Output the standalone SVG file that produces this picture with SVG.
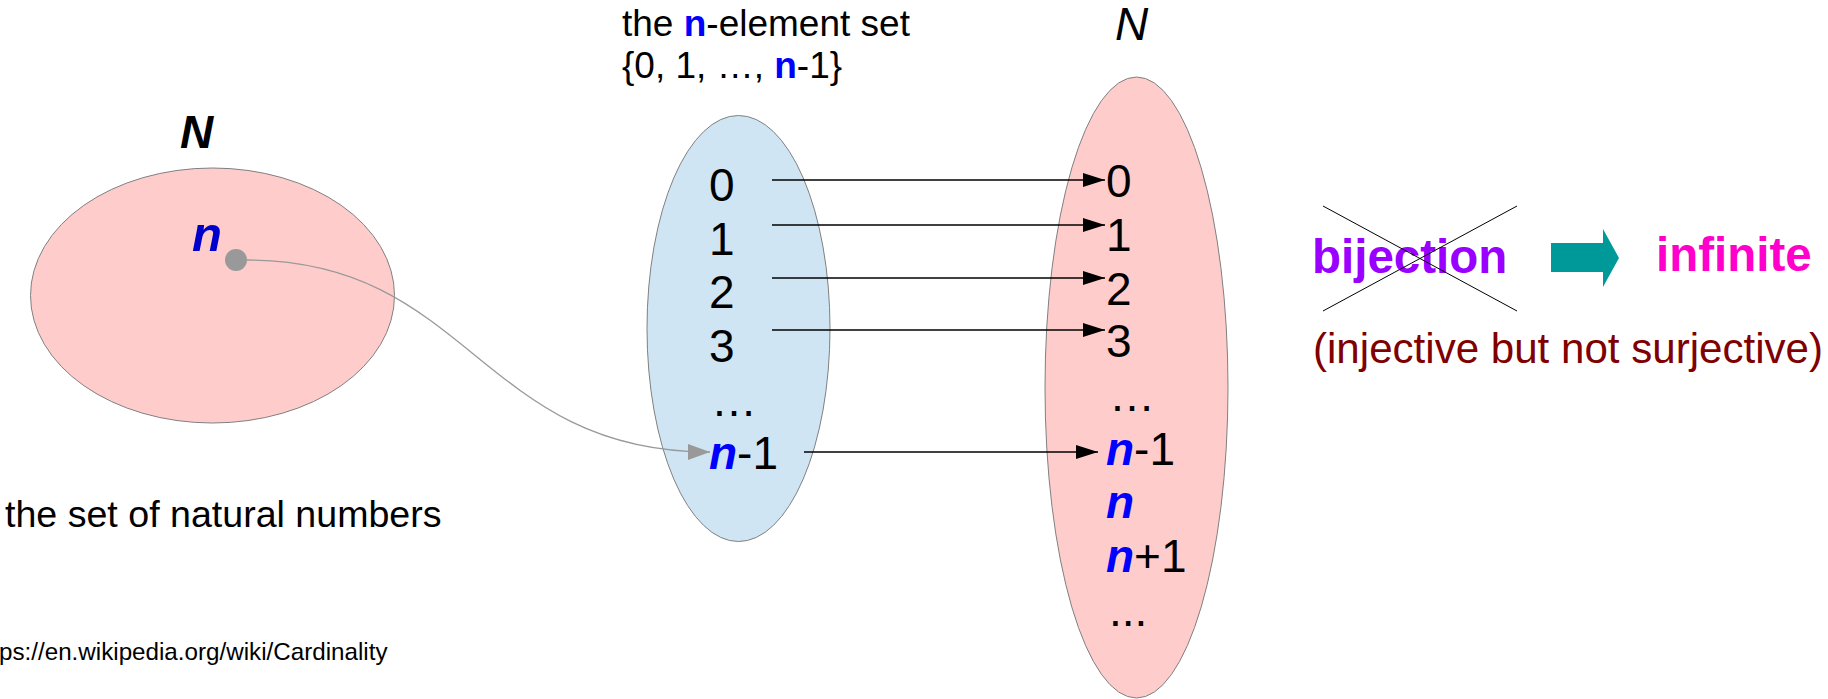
<svg xmlns="http://www.w3.org/2000/svg" width="1828" height="699" viewBox="0 0 1828 699">
<style>
text{font-family:"Liberation Sans",Arial,sans-serif;fill:#000}
.num{font-size:46px}
.nb{font-weight:bold;font-style:italic;fill:#0000ff}
.set{stroke:#808080;stroke-width:1}
.arr{stroke:#000;stroke-width:1.3;fill:none}
</style>
<defs>
<marker id="ah" markerUnits="userSpaceOnUse" markerWidth="23" markerHeight="14" refX="22" refY="7" orient="auto">
<path d="M0,0 L22,7 L0,14 z" fill="#000"/>
</marker>
<marker id="ahg" markerUnits="userSpaceOnUse" markerWidth="23" markerHeight="16" refX="22" refY="8" orient="auto">
<path d="M0,0 L22,8 L0,16 z" fill="#999"/>
</marker>
</defs>
<rect width="1828" height="699" fill="#fff"/>

<g id="node-natural-left">
<text x="180" y="148" style="font-size:46px;font-weight:bold;font-style:italic">N</text>
<ellipse class="set" cx="212.5" cy="295.5" rx="182" ry="127.5" fill="#ffcccc"/>
<text x="192" y="251" style="font-size:49px;font-weight:bold;font-style:italic;fill:#0000cc">n</text>
<circle cx="236" cy="260" r="11" fill="#999"/>
<text x="5" y="527" style="font-size:37.6px">the set of natural numbers</text>
</g>

<g id="node-n-element">
<text x="622" y="36" style="font-size:37px">the <tspan style="font-weight:bold;fill:#0000ff">n</tspan>-element set</text>
<text x="622" y="78" style="font-size:37px">{0, 1, …, <tspan style="font-weight:bold;fill:#0000ff">n</tspan>-1}</text>
<ellipse class="set" cx="738.5" cy="328.5" rx="91.5" ry="213" fill="#cfe5f3"/>
<text class="num" x="709" y="201">0</text>
<text class="num" x="709" y="255">1</text>
<text class="num" x="709" y="308">2</text>
<text class="num" x="709" y="362">3</text>
<text class="num" x="711" y="416">…</text>
<text class="num" x="709" y="469"><tspan class="nb">n</tspan>-1</text>
</g>

<g id="node-natural-right">
<text x="1115" y="40" style="font-size:46px;font-style:italic">N</text>
<ellipse class="set" cx="1136.5" cy="387.5" rx="91.5" ry="310.5" fill="#ffcccc"/>
<text class="num" x="1106" y="197">0</text>
<text class="num" x="1106" y="251">1</text>
<text class="num" x="1106" y="305">2</text>
<text class="num" x="1106" y="357">3</text>
<text class="num" x="1109" y="411">…</text>
<text class="num" x="1106" y="465"><tspan class="nb">n</tspan>-1</text>
<text class="num" x="1106" y="518"><tspan class="nb">n</tspan></text>
<text class="num" x="1106" y="572"><tspan class="nb">n</tspan>+1</text>
<text class="num" x="1109" y="626">...</text>
</g>

<g id="connectors">
<line class="arr" x1="772" y1="180" x2="1105" y2="180" marker-end="url(#ah)"/>
<line class="arr" x1="772" y1="225" x2="1105" y2="225" marker-end="url(#ah)"/>
<line class="arr" x1="772" y1="278" x2="1105" y2="278" marker-end="url(#ah)"/>
<line class="arr" x1="772" y1="330" x2="1105" y2="330" marker-end="url(#ah)"/>
<line class="arr" x1="804" y1="452" x2="1098" y2="452" marker-end="url(#ah)"/>
<path d="M247,260 C470,260 480,452 710,452" fill="none" stroke="#999" stroke-width="1.3" marker-end="url(#ahg)"/>
</g>

<g id="node-conclusion">
<text x="1312" y="273" style="font-size:47.5px;font-weight:bold;fill:#9900ff">bijection</text>
<line x1="1323" y1="206" x2="1517" y2="311" stroke="#000" stroke-width="1"/>
<line x1="1323" y1="311" x2="1517" y2="206" stroke="#000" stroke-width="1"/>
<path d="M1551,243 L1603,243 L1603,229 L1619,258 L1603,287 L1603,272 L1551,272 z" fill="#009999"/>
<text x="1656" y="271" style="font-size:47.5px;font-weight:bold;fill:#ff00cc">infinite</text>
<text x="1313" y="363" style="font-size:42.1px;fill:#800000">(injective but not surjective)</text>
</g>

<text x="-1" y="660" style="font-size:24.2px">ps://en.wikipedia.org/wiki/Cardinality</text>
</svg>
